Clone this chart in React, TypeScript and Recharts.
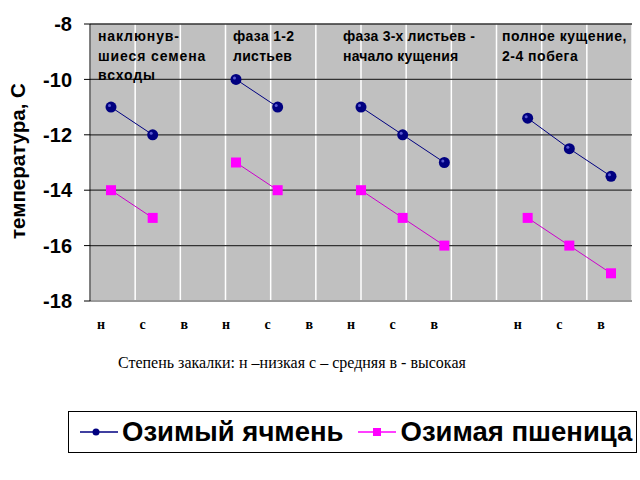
import { LineChart, Line, XAxis, YAxis, CartesianGrid } from 'recharts';

// степень закалки по фазам (пустая ячейка - разрыв между 3-й и 4-й фазой)
const levels = ['н', 'с', 'в', 'н', 'с', 'в', 'н', 'с', 'в', '', 'н', 'с', 'в'];
const barley = [-11, -12, null, -10, -11, null, -11, -12, -13, null, -11.4, -12.5, -13.5];
const wheat = [-14, -15, null, -13, -14, null, -14, -15, -16, null, -15, -16, -17];
const yTicks = [-18, -16, -14, -12, -10, -8];
const phases = [
  { text: 'наклюнув-\nшиеся семена\nвсходы', left: 98, spacing: 0.9 },
  { text: 'фаза 1-2\nлистьев', left: 233, spacing: 0.3 },
  { text: 'фаза 3-х листьев -\nначало кущения', left: 343, spacing: 0.2 },
  { text: 'полное кущение,\n2-4 побега', left: 502, spacing: 0.5 },
];
const seriesNames = ['Озимый ячмень', 'Озимая пшеница'];

const data = levels.map((level, i) => ({ level, barley: barley[i], wheat: wheat[i] }));
// границы ячеек категорий для белых вертикальных линий
const cellEdges = levels.slice(1).map((_, i) => i + 1);

const sans = 'Arial, "Liberation Sans", sans-serif';
const serif = '"Times New Roman", "Liberation Serif", serif';

function SquareDot(props: any) {
  const { cx, cy, index } = props;
  if (cx == null || cy == null || props.value == null) return <g key={index} />;
  return <rect key={index} x={cx - 5} y={cy - 5} width={10} height={10} fill="#FF00FF" />;
}

function CircleDot(props: any) {
  const { cx, cy, index } = props;
  if (cx == null || cy == null || props.value == null) return <g key={index} />;
  return (
    <g key={index}>
      <circle cx={cx} cy={cy} r={5.5} fill="#000080" />
      <circle cx={cx - 1.5} cy={cy - 1.5} r={1.5} fill="#5a5ad0" />
    </g>
  );
}

export default function App() {
  return (
    <div style={{ position: 'absolute', top: 0, left: 0, width: 640, height: 480, background: '#fff' }}>
      <LineChart width={640} height={480} data={data} margin={{ top: 24, right: 8, bottom: 149, left: 0 }}>
        <CartesianGrid
          horizontal={false}
          xAxisId="cells"
          fill="#C0C0C0"
          stroke="#FFFFFF"
          strokeWidth={1.5}
        />
        <CartesianGrid vertical={false} stroke="#333333" strokeWidth={1.3} />
        <XAxis
          xAxisId="cells"
          type="number"
          domain={[0, levels.length]}
          ticks={cellEdges}
          hide
        />
        <XAxis
          dataKey="level"
          interval={0}
          padding={{ left: 21, right: 21 }}
          tickLine={false}
          tickSize={0}
          tickMargin={18}
          dx={-10}
          axisLine={{ stroke: '#9a9a9a', strokeWidth: 2 }}
          tick={{ fill: '#000', fontSize: 14, fontWeight: 'bold', fontFamily: serif }}
          height={30}
        />
        <YAxis
          domain={[-18, -8]}
          ticks={yTicks}
          width={90}
          tickSize={6}
          tickMargin={12}
          axisLine={{ stroke: '#000' }}
          tickLine={{ stroke: '#000' }}
          tick={{ fill: '#000', fontSize: 20, fontWeight: 'bold', fontFamily: sans }}
        />
        <Line
          dataKey="barley"
          stroke="#000080"
          strokeWidth={1}
          dot={CircleDot}
          activeDot={false}
          isAnimationActive={false}
        />
        <Line
          dataKey="wheat"
          stroke="#CC00CC"
          strokeWidth={1}
          dot={SquareDot}
          activeDot={false}
          isAnimationActive={false}
        />
      </LineChart>

      {phases.map((p) => (
        <div
          key={p.left}
          style={{
            position: 'absolute',
            left: p.left,
            top: 27,
            fontFamily: sans,
            fontWeight: 'bold',
            fontSize: 14,
            lineHeight: '19.5px',
            whiteSpace: 'pre',
            letterSpacing: p.spacing,
            color: '#000',
          }}
        >
          {p.text}
        </div>
      ))}

      <div
        style={{
          position: 'absolute',
          left: 18,
          top: 161,
          transform: 'translate(-50%, -50%) rotate(-90deg)',
          fontFamily: sans,
          fontWeight: 'bold',
          fontSize: 20.5,
          whiteSpace: 'nowrap',
          color: '#000',
        }}
      >
        температура, С
      </div>

      <div
        style={{
          position: 'absolute',
          left: 118,
          top: 354,
          fontFamily: serif,
          fontSize: 16,
          whiteSpace: 'nowrap',
          color: '#000',
        }}
      >
        Степень закалки: н –низкая с – средняя в - высокая
      </div>

      <div
        style={{
          position: 'absolute',
          left: 68,
          top: 411,
          width: 567,
          height: 40,
          border: '1.5px solid #000',
          display: 'flex',
          alignItems: 'center',
          fontFamily: sans,
          fontWeight: 'bold',
          fontSize: 27.5,
          color: '#000',
        }}
      >
        <svg width={38} height={20} style={{ marginLeft: 11, marginRight: 4 }}>
          <line x1={0} y1={10} x2={38} y2={10} stroke="#000080" strokeWidth={1.5} />
          <circle cx={16} cy={10} r={3.5} fill="#000080" />
        </svg>
        <span>{seriesNames[0]}</span>
        <svg width={38} height={20} style={{ marginLeft: 14, marginRight: 5 }}>
          <line x1={0} y1={10} x2={38} y2={10} stroke="#FF00FF" strokeWidth={1.5} />
          <rect x={15} y={6} width={8} height={8} fill="#FF00FF" />
        </svg>
        <span>{seriesNames[1]}</span>
      </div>
    </div>
  );
}
